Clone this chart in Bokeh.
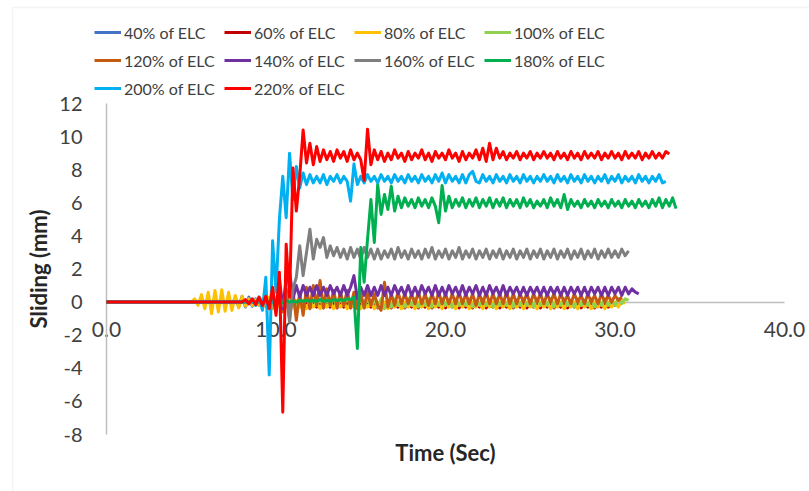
from bokeh.plotting import figure
from bokeh.models import Range1d, FixedTicker, Legend, LegendItem, LinearAxis, BoxAnnotation
from bokeh.embed import file_html
from bokeh.resources import INLINE

# ---------------- data ----------------
SAMPLE_TIMES = [
    5.0, 5.2, 5.4, 5.6, 5.8, 6.0, 6.2, 6.4, 6.6, 6.8,
    7.0, 7.2, 7.4, 7.6, 7.8, 8.0, 8.2, 8.4, 8.6, 8.8,
    9.0, 9.2, 9.4, 9.6, 9.8, 10.0, 10.2, 10.4, 10.6, 10.8,
    11.0, 11.2, 11.4, 11.6, 11.8, 12.0, 12.2, 12.4, 12.6, 12.8,
    13.0, 13.2, 13.4, 13.6, 13.8, 14.0, 14.2, 14.4, 14.6, 14.8,
    15.0, 15.2, 15.4, 15.6, 15.8, 16.0, 16.2, 16.4, 16.6, 16.8,
    17.0, 17.2, 17.4, 17.6, 17.8, 18.0, 18.2, 18.4, 18.6, 18.8,
    19.0, 19.2, 19.4, 19.6, 19.8, 20.0, 20.2, 20.4, 20.6, 20.8,
    21.0, 21.2, 21.4, 21.6, 21.8, 22.0, 22.2, 22.4, 22.6, 22.8,
    23.0, 23.2, 23.4, 23.6, 23.8, 24.0, 24.2, 24.4, 24.6, 24.8,
    25.0, 25.2, 25.4, 25.6, 25.8, 26.0, 26.2, 26.4, 26.6, 26.8,
    27.0, 27.2, 27.4, 27.6, 27.8, 28.0, 28.2, 28.4, 28.6, 28.8,
    29.0, 29.2, 29.4, 29.6, 29.8, 30.0, 30.2, 30.4, 30.6, 30.8,
    31.0, 31.2, 31.4, 31.6, 31.8, 32.0, 32.2, 32.4, 32.6, 32.8,
    33.0, 33.2, 33.4, 33.6,
]

X_TICKS = [0, 10, 20, 30, 40]
X_TICK_LABELS = ["0.0", "10.0", "20.0", "30.0", "40.0"]
Y_TICKS = [-8, -6, -4, -2, 0, 2, 4, 6, 8, 10, 12]
Y_TICK_LABELS = ["-8", "-6", "-4", "-2", "0", "2", "4", "6", "8", "10", "12"]

LABELS = ["40% of ELC", "60% of ELC", "80% of ELC", "100% of ELC", "120% of ELC",
          "140% of ELC", "160% of ELC", "180% of ELC", "200% of ELC", "220% of ELC"]
COLORS = ["#4472C4", "#C00000", "#FFC000", "#92D050", "#C55A11",
          "#7030A0", "#7F7F7F", "#00B050", "#00B0F0", "#FF0000"]
# time (s) at which each record leaves the zero line
ONSETS = [7.0, 8.0, 5.0, 10.0, 8.0, 8.0, 10.0, 10.0, 8.0, 8.0]

sliding_40 = [
    0.0, 0.15, -0.2, 0.3, -0.3, 0.35, -0.3, 0.3, -0.25, 0.2,
    -0.2, 0.15, -0.15, 0.1, -0.1, 0.1, -0.1, 0.1, -0.1, 0.05,
    0.05, -0.1, 0.05, -0.1, 0.1, -0.1, 0.05, -0.1, 0.05, -0.05,
    0.05, -0.1, 0.1, -0.1, 0.05, -0.1, 0.05, -0.1, 0.05, -0.05,
    0.05, -0.1, 0.05, -0.1, 0.1, -0.1, 0.05, -0.1, 0.05, -0.05,
    0.05, -0.1, 0.1, -0.1, 0.05, -0.1, 0.05, -0.1, 0.05, -0.05,
    0.05, -0.1, 0.05, -0.1, 0.1, -0.1, 0.05, -0.1, 0.05, -0.05,
    0.05, -0.1, 0.1, -0.1, 0.05, -0.1, 0.05, -0.1, 0.05, -0.05,
    0.05, -0.1, 0.05, -0.1, 0.1, -0.1, 0.05, -0.1, 0.05, -0.05,
    0.05, -0.1, 0.1, -0.1, 0.05, -0.1, 0.05, -0.1, 0.05, -0.05,
    0.05, -0.1, 0.05, -0.1, 0.1, -0.1, 0.05, -0.1, 0.05, -0.05,
    0.05, -0.1, 0.05, 0.0,
]
sliding_60 = [
    0.0, 0.1, -0.1, 0.15, -0.15, 0.2, -0.2, 0.2, -0.3, 0.3,
    -0.4, 0.3, -0.4, 0.2, -0.3, 0.2, -0.4, 0.1, -0.3, 0.1,
    -0.35, -0.05, -0.3, -0.05, -0.35, -0.1, -0.3, -0.05, -0.35, -0.05,
    -0.3, -0.05, -0.35, -0.1, -0.3, -0.05, -0.35, -0.05, -0.3, -0.1,
    -0.35, -0.05, -0.3, -0.05, -0.35, -0.1, -0.3, -0.05, -0.35, -0.05,
    -0.3, -0.05, -0.35, -0.1, -0.3, -0.05, -0.35, -0.05, -0.3, -0.1,
    -0.35, -0.05, -0.3, -0.05, -0.35, -0.1, -0.3, -0.05, -0.35, -0.05,
    -0.3, -0.05, -0.35, -0.1, -0.3, -0.05, -0.35, -0.05, -0.3, -0.1,
    -0.35, -0.05, -0.3, -0.05, -0.35, -0.1, -0.3, -0.05, -0.35, -0.05,
    -0.3, -0.05, -0.35, -0.1, -0.3, -0.05, -0.35, -0.05, -0.3, -0.1,
    -0.35, -0.05, -0.3, -0.05, -0.35, -0.1, -0.3, -0.05, -0.3, -0.05,
    -0.2, -0.1,
]
sliding_80 = [
    0.0, 0.2, -0.2, 0.45, -0.4, 0.6, -0.7, 0.7, -0.6, 0.75,
    -0.55, 0.6, -0.5, 0.4, -0.35, 0.35, -0.25, 0.2, -0.2, 0.15,
    -0.2, 0.2, -0.3, 0.3, -0.4, 0.3, -0.3, 0.2, -0.3, 0.2,
    -0.3, 0.1, -0.3, 0.1, -0.4, 0.1, -0.3, 0.0, -0.4, 0.0,
    -0.3, 0.0, -0.4, 0.0, -0.3, 0.0, -0.4, 0.0, -0.3, 0.0,
    -0.4, 0.0, -0.3, 0.0, -0.4, 0.0, -0.3, 0.0, -0.4, 0.0,
    -0.3, 0.0, -0.4, 0.0, -0.3, 0.0, -0.4, 0.0, -0.3, 0.0,
    -0.4, 0.0, -0.3, 0.0, -0.4, 0.0, -0.3, 0.0, -0.4, 0.0,
    -0.3, 0.0, -0.4, 0.0, -0.3, 0.0, -0.4, 0.0, -0.3, 0.0,
    -0.4, 0.0, -0.3, 0.0, -0.4, 0.0, -0.3, 0.0, -0.4, 0.0,
    -0.3, 0.0, -0.4, 0.0, -0.3, 0.0, -0.4, 0.0, -0.3, 0.0,
    -0.4, 0.0, -0.3, 0.0, -0.4, 0.0, -0.3, 0.0, -0.4, 0.0,
    -0.3, 0.0, -0.4, 0.0, -0.3, 0.0, -0.3, 0.1, -0.1,
]
sliding_100 = [
    0.0, 0.1, -0.1, 0.2, -0.2, 0.3, -0.3, 0.3, -0.2, 0.3,
    -0.3, 0.3, -0.2, 0.2, -0.3, 0.2, -0.2, 0.3, -0.3, 0.2,
    -0.2, 0.3, -0.3, 0.2, -0.2, 0.2, -0.3, 0.2, -0.2, 0.1,
    -0.3, 0.2, -0.4, 0.1, -0.3, 0.2, -0.2, 0.1, -0.3, 0.2,
    -0.2, 0.2, -0.3, 0.1, -0.2, 0.2, -0.3, 0.1, -0.2, 0.2,
    -0.2, 0.1, -0.3, 0.2, -0.2, 0.1, -0.2, 0.2, -0.3, 0.1,
    -0.2, 0.2, -0.2, 0.1, -0.3, 0.2, -0.2, 0.1, -0.2, 0.2,
    -0.3, 0.1, -0.2, 0.2, -0.2, 0.1, -0.3, 0.2, -0.2, 0.1,
    -0.2, 0.2, -0.3, 0.1, -0.2, 0.2, -0.2, 0.1, -0.3, 0.2,
    -0.2, 0.1, -0.2, 0.2, -0.3, 0.1, -0.2, 0.2, -0.2, 0.1,
    -0.2, 0.2, -0.1, 0.2, 0.1,
]
sliding_120 = [
    0.0, 0.05, -0.05, 0.1, -0.1, 0.1, -0.15, 0.2, -0.2, 0.3,
    -0.3, 0.5, -0.6, 0.8, -1.0, 0.7, -1.1, 0.6, -0.8, 0.9,
    -0.4, 1.0, -0.2, 1.3, -0.3, 0.8, -0.2, 0.7, -0.3, 0.6,
    -0.2, 0.7, -0.3, 0.6, -0.4, 0.5, -0.3, 0.6, -0.2, 0.5,
    -0.2, -0.5, 1.2, -0.3, 0.5, -0.2, 0.6, -0.1, 0.5, -0.1,
    0.5, -0.1, 0.6, -0.1, 0.5, -0.2, 0.5, -0.1, 0.6, -0.1,
    0.5, -0.1, 0.5, -0.1, 0.6, -0.1, 0.5, -0.1, 0.5, -0.2,
    0.5, -0.1, 0.6, -0.1, 0.5, -0.1, 0.5, -0.1, 0.6, -0.1,
    0.5, -0.1, 0.5, 0.0, 0.5, -0.1, 0.5, 0.0, 0.5, -0.1,
    0.5, 0.0, 0.5, -0.1, 0.5, 0.0, 0.4, -0.1, 0.5, 0.0,
    0.4, -0.1, 0.5, 0.0, 0.4, -0.1, 0.5, 0.0, 0.4, 0.0,
    0.4, 0.1, 0.3,
]
sliding_140 = [
    0.0, 0.05, -0.05, 0.1, -0.1, 0.15, -0.2, 0.2, -0.3, 0.4,
    -0.6, 1.5, -0.4, 1.4, 1.9, 0.2, 1.0, 0.3, 1.0, 0.4,
    0.9, 0.4, 1.0, 0.4, 0.9, 0.4, 1.0, 0.5, 0.9, 0.4,
    1.0, 0.4, 0.9, 1.6, 0.2, 0.9, 0.4, 1.0, 0.4, 0.9,
    0.4, 1.0, 0.4, 0.9, 0.4, 1.0, 0.5, 0.9, 0.4, 1.0,
    0.4, 0.9, 0.4, 1.0, 0.5, 0.9, 0.4, 1.0, 0.4, 0.9,
    0.4, 1.0, 0.5, 0.9, 0.4, 1.0, 0.4, 0.9, 0.5, 1.0,
    0.4, 0.9, 0.4, 1.0, 0.5, 0.9, 0.4, 1.0, 0.4, 0.9,
    0.5, 0.9, 0.4, 0.9, 0.4, 0.9, 0.5, 0.9, 0.4, 0.9,
    0.4, 0.9, 0.5, 0.9, 0.4, 0.9, 0.4, 0.9, 0.5, 0.9,
    0.4, 0.9, 0.4, 0.9, 0.5, 0.9, 0.4, 0.9, 0.4, 0.9,
    0.5, 0.9, 0.4, 0.9, 0.5, 0.8, 0.6, 0.5,
]
sliding_160 = [
    0.0, 0.3, -0.2, 0.5, -1.2, 0.8, 1.5, 3.4, 1.6, 3.0,
    4.4, 2.6, 3.8, 3.3, 3.9, 2.7, 3.4, 2.8, 3.3, 2.7,
    3.2, 2.6, 3.3, 2.7, 3.2, 2.6, 3.3, 2.7, 3.2, 2.6,
    3.2, 2.6, 3.1, 2.7, 3.2, 2.6, 3.3, 2.7, 3.1, 2.6,
    3.2, 2.7, 3.1, 2.6, 3.2, 2.7, 3.3, 2.6, 3.1, 2.7,
    3.2, 2.6, 3.1, 2.7, 3.3, 2.6, 3.1, 2.7, 3.2, 2.6,
    3.1, 2.7, 3.2, 2.6, 3.1, 2.7, 3.2, 2.6, 3.1, 2.7,
    3.2, 2.6, 3.1, 2.7, 3.2, 2.6, 3.1, 2.7, 3.2, 2.6,
    3.1, 2.7, 3.2, 2.6, 3.1, 2.7, 3.2, 2.6, 3.1, 2.7,
    3.2, 2.6, 3.1, 2.7, 3.2, 2.6, 3.1, 2.7, 3.2, 2.7,
    3.1, 2.7, 3.2, 2.8, 3.1,
]
sliding_180 = [
    0.0, 0.05, -0.05, 0.1, 0.0, 0.05, 0.0, 0.1, 0.05, 0.1,
    0.05, 0.1, 0.05, 0.15, 0.05, 0.1, 0.05, 0.15, 0.1, 0.15,
    0.1, 0.2, 0.15, 0.3, -2.8, 3.3, 1.2, 3.8, 6.2, 3.6,
    7.1, 5.3, 6.5, 5.6, 7.0, 5.5, 6.4, 5.7, 6.3, 5.8,
    6.2, 5.7, 6.3, 5.8, 6.2, 5.7, 6.3, 5.8, 4.8, 7.05,
    5.5, 6.4, 5.7, 6.2, 5.8, 6.3, 5.7, 6.2, 5.8, 6.3,
    5.7, 6.2, 5.8, 6.3, 5.7, 6.2, 5.8, 6.3, 5.7, 6.2,
    5.8, 6.2, 5.7, 6.3, 5.8, 6.2, 5.7, 6.1, 5.8, 6.2,
    5.7, 6.3, 5.8, 6.2, 5.7, 6.5, 5.6, 6.2, 5.8, 6.1,
    5.7, 6.2, 5.8, 6.1, 5.7, 6.2, 5.8, 6.1, 5.7, 6.2,
    5.8, 6.1, 5.7, 6.2, 5.8, 6.1, 5.7, 6.2, 5.8, 6.1,
    5.7, 6.2, 5.8, 6.3, 5.7, 6.2, 5.8, 6.3, 5.65,
]
sliding_200 = [
    0.0, 0.1, -0.1, 0.15, -0.2, 0.3, -0.5, 1.5, -4.4, 3.7,
    0.6, 5.0, 7.6, 5.1, 9.0, 6.2, 8.2, 6.9, 7.8, 7.1,
    7.7, 7.2, 7.6, 7.2, 7.7, 7.1, 7.6, 7.3, 7.7, 7.2,
    7.6, 7.3, 6.1, 8.35, 7.1, 7.6, 7.2, 7.7, 7.3, 7.6,
    7.2, 7.7, 7.3, 7.6, 7.2, 7.7, 7.3, 7.6, 7.2, 7.7,
    7.3, 7.6, 7.2, 7.7, 7.3, 7.6, 7.2, 7.7, 7.3, 7.8,
    7.2, 7.7, 7.3, 7.6, 7.2, 7.7, 7.2, 7.7, 7.9, 7.3,
    7.2, 7.7, 7.3, 7.6, 7.2, 7.7, 7.3, 7.6, 7.2, 7.7,
    7.3, 7.6, 7.2, 7.7, 7.3, 7.6, 7.2, 7.6, 7.3, 7.7,
    7.3, 7.6, 7.2, 7.7, 7.3, 7.6, 7.2, 7.7, 7.3, 7.6,
    7.2, 7.7, 7.3, 7.6, 7.2, 7.6, 7.3, 7.7, 7.2, 7.6,
    7.3, 7.7, 7.2, 7.6, 7.3, 7.6, 7.2, 7.7, 7.3, 7.6,
    7.2, 7.6, 7.3, 7.7, 7.2, 7.3,
]
sliding_220 = [
    0.0, 0.15, -0.1, 0.2, -0.15, 0.3, -0.2, 0.35, -0.4, 0.9,
    -0.8, 1.8, -6.65, 3.5, 0.3, 8.1, 5.5, 7.6, 10.4, 8.4,
    9.6, 8.3, 9.4, 8.5, 9.2, 8.6, 9.1, 8.5, 9.2, 8.7,
    9.1, 8.5, 9.2, 8.6, 9.0, 8.6, 7.35, 10.45, 8.3, 9.2,
    8.6, 9.1, 8.5, 9.0, 8.6, 9.2, 8.7, 9.0, 8.5, 9.1,
    8.6, 9.0, 8.7, 9.2, 8.6, 9.0, 8.5, 9.1, 8.7, 9.0,
    8.6, 9.2, 8.7, 9.0, 8.5, 9.1, 8.6, 9.0, 8.7, 9.2,
    8.6, 9.3, 8.5, 9.6, 8.6, 9.3, 8.7, 9.1, 8.6, 9.0,
    8.7, 9.1, 8.6, 9.0, 8.7, 9.1, 8.6, 9.0, 8.7, 9.1,
    8.7, 9.0, 8.6, 9.1, 8.7, 9.0, 8.6, 9.1, 8.7, 9.0,
    8.6, 9.1, 8.7, 9.0, 8.7, 9.1, 8.6, 9.0, 8.7, 9.1,
    8.7, 9.0, 8.6, 9.1, 8.7, 9.0, 8.7, 9.1, 8.6, 9.0,
    8.7, 9.1, 8.7, 9.0, 8.7, 9.1, 8.95,
]
SERIES = [sliding_40, sliding_60, sliding_80, sliding_100, sliding_120,
          sliding_140, sliding_160, sliding_180, sliding_200, sliding_220]

# ---------------- figure ----------------
FONT = "Lato"
TEXT = "#404040"
TITLE_COLOR = "#262626"
AXIS_COLOR = "#BFBFBF"

# The plotting frame covers the whole canvas; the visible axes sit at x = 0
# and y = 0 inside it (Excel-style crossing axes), so nothing gets clipped.
p = figure(width=809, height=491, output_backend="svg", toolbar_location=None,
           x_range=Range1d(-6.2537, 41.4749), y_range=Range1d(-11.4441, 18.2236),
           min_border_left=0, min_border_right=0, min_border_top=0,
           min_border_bottom=0, background_fill_color="white",
           border_fill_color="white")
p.outline_line_color = None
p.xgrid.visible = False
p.ygrid.visible = False

items = []
for label, color, onset, vals in zip(LABELS, COLORS, ONSETS, SERIES):
    i0 = SAMPLE_TIMES.index(onset)
    ts = SAMPLE_TIMES[i0:i0 + len(vals)]
    xs = [0.0] + ts
    ys = [0.0] + vals[:len(ts)]
    r = p.line(xs, ys, line_color=color, line_width=3, line_join="round")
    items.append(LegendItem(label=label, renderers=[r]))

# y axis at x = 0
yax = p.yaxis[0]
yax.fixed_location = X_TICKS[0]
yax.bounds = (Y_TICKS[0], Y_TICKS[-1])
yax.level = "underlay"
yax.ticker = FixedTicker(ticks=Y_TICKS)
yax.major_label_overrides = {t: s for t, s in zip(Y_TICKS, Y_TICK_LABELS)}
yax.major_tick_line_color = None
yax.minor_tick_line_color = None
yax.major_tick_out = 0
yax.major_tick_in = 0
yax.major_label_standoff = 24
yax.axis_line_color = AXIS_COLOR
yax.axis_line_width = 1.5
yax.major_label_text_font = FONT
yax.major_label_text_font_size = "20px"
yax.major_label_text_color = TEXT
yax.axis_label = "Sliding (mm)"
yax.axis_label_text_font = FONT
yax.axis_label_text_font_size = "22px"
yax.axis_label_text_font_style = "bold"
yax.axis_label_text_color = TITLE_COLOR
yax.axis_label_standoff = 4

# x axis crossing the y axis at 0
xax = p.xaxis[0]
xax.fixed_location = 0
xax.bounds = (X_TICKS[0], X_TICKS[-1])
xax.level = "underlay"
xax.ticker = FixedTicker(ticks=X_TICKS)
xax.major_label_overrides = {t: s for t, s in zip(X_TICKS, X_TICK_LABELS)}
xax.major_tick_line_color = None
xax.minor_tick_line_color = None
xax.major_tick_out = 0
xax.major_tick_in = 0
xax.major_label_standoff = 20
xax.axis_line_color = AXIS_COLOR
xax.axis_line_width = 1.5
xax.major_label_text_font = FONT
xax.major_label_text_font_size = "21px"
xax.major_label_text_color = TEXT

# bottom title carried by a bare axis at the bottom of the value range
title_axis = LinearAxis(fixed_location=Y_TICKS[0], bounds=(X_TICKS[0], X_TICKS[-1]),
                        ticker=FixedTicker(ticks=[]), axis_line_color=None,
                        major_tick_line_color=None, minor_tick_line_color=None,
                        major_tick_out=0, major_tick_in=0,
                        major_label_text_font_size="0px",
                        axis_label="Time (Sec)", axis_label_text_font=FONT,
                        axis_label_text_font_size="22px",
                        axis_label_text_font_style="bold",
                        axis_label_text_color=TITLE_COLOR,
                        axis_label_standoff=4)
p.add_layout(title_axis, "below")

legend = Legend(items=items, orientation="horizontal", ncols=4,
                location=(94, 393), margin=0, padding=4, spacing=8,
                glyph_width=27, glyph_height=20, label_standoff=3,
                label_width=92, label_height=20,
                label_text_font=FONT, label_text_font_size="16px",
                label_text_color=TEXT, border_line_color=None,
                background_fill_alpha=0)
p.add_layout(legend, "center")

# light chart-area border (top and left edges visible in the picture)
p.add_layout(BoxAnnotation(left=12, right=830, top=7, bottom=520,
                           left_units="canvas", right_units="canvas",
                           top_units="canvas", bottom_units="canvas",
                           fill_alpha=0, line_color="#D9D9D9", line_width=1.5))

open("out.html", "w").write(file_html(p, INLINE))
